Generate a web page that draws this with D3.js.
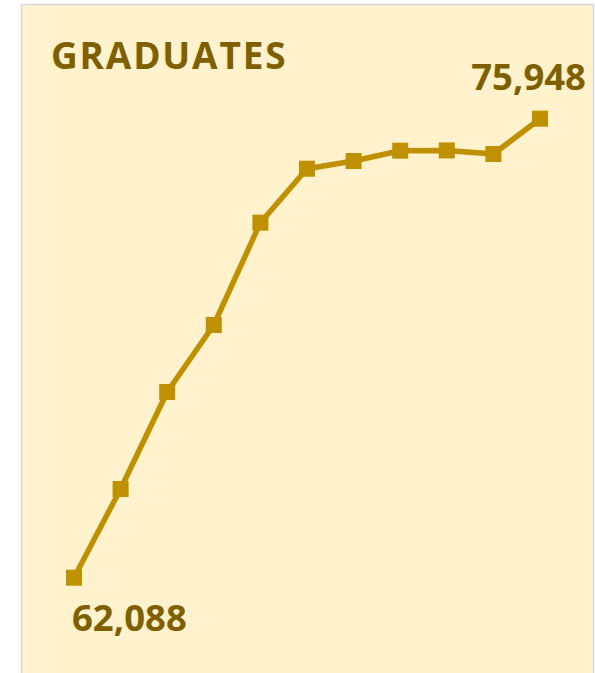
<!doctype html>
<html lang="en">
  <head>
    <meta charset="utf-8">
    <script src="https://d3js.org/d3.v7.min.js"></script>
    <title>Graduates</title>
    <style>
      body { margin: 0; background: #fff; }
      text { font-family: "Open Sans", sans-serif; font-weight: 700; }
    </style>
  </head>
  <body>
    <svg width="595" height="673"></svg>
    <script>
      // values, one point per year
      const years = ["Y1", "Y2", "Y3", "Y4", "Y5", "Y6", "Y7", "Y8", "Y9", "Y10", "Y11"];
      const graduates = [62088, 64766, 67695, 69719, 72808, 74438, 74671, 74982, 74990, 74882, 75948];
      const title = "GRADUATES";

      const svg = d3.select("svg");
      const gold = "#BF9000", dark = "#7F6000";

      // panel
      svg.append("rect")
        .attr("x", 21.5).attr("y", 4.5)
        .attr("width", 572).attr("height", 680)
        .attr("fill", "#FFF2CC")
        .attr("stroke", "#D9D9D9")
        .attr("stroke-width", 1.5);

      svg.append("text")
        .attr("x", 51).attr("y", 68.5)
        .attr("font-size", 37)
        .attr("font-weight", 800)
        .attr("letter-spacing", 1.8)
        .attr("fill", dark)
        .text(title);

      const x = d3.scalePoint().domain(years).range([74, 540]);
      const y = d3.scaleLinear().domain([62088, 75948]).range([577.7, 118.7]);

      const line = d3.line()
        .x((d, i) => x(years[i]))
        .y(d => y(d));

      svg.append("path")
        .datum(graduates)
        .attr("d", line)
        .attr("fill", "none")
        .attr("stroke", gold)
        .attr("stroke-width", 5.5)
        .attr("stroke-linejoin", "round");

      svg.append("g")
        .selectAll("rect")
        .data(graduates)
        .enter().append("rect")
        .attr("x", (d, i) => x(years[i]) - 8)
        .attr("y", d => y(d) - 8)
        .attr("width", 16)
        .attr("height", 16)
        .attr("fill", gold);

      const fmt = d3.format(",");
      const first = graduates[0], last = graduates[graduates.length - 1];

      svg.append("text")
        .attr("x", x(years[0]) - 2)
        .attr("y", y(first) + 53)
        .attr("font-size", 36.5)
        .attr("fill", dark)
        .text(fmt(first));

      svg.append("text")
        .attr("x", x(years[years.length - 1]) + 46)
        .attr("y", y(last) - 28.5)
        .attr("text-anchor", "end")
        .attr("font-size", 36.5)
        .attr("fill", dark)
        .text(fmt(last));
    </script>
  </body>
</html>
